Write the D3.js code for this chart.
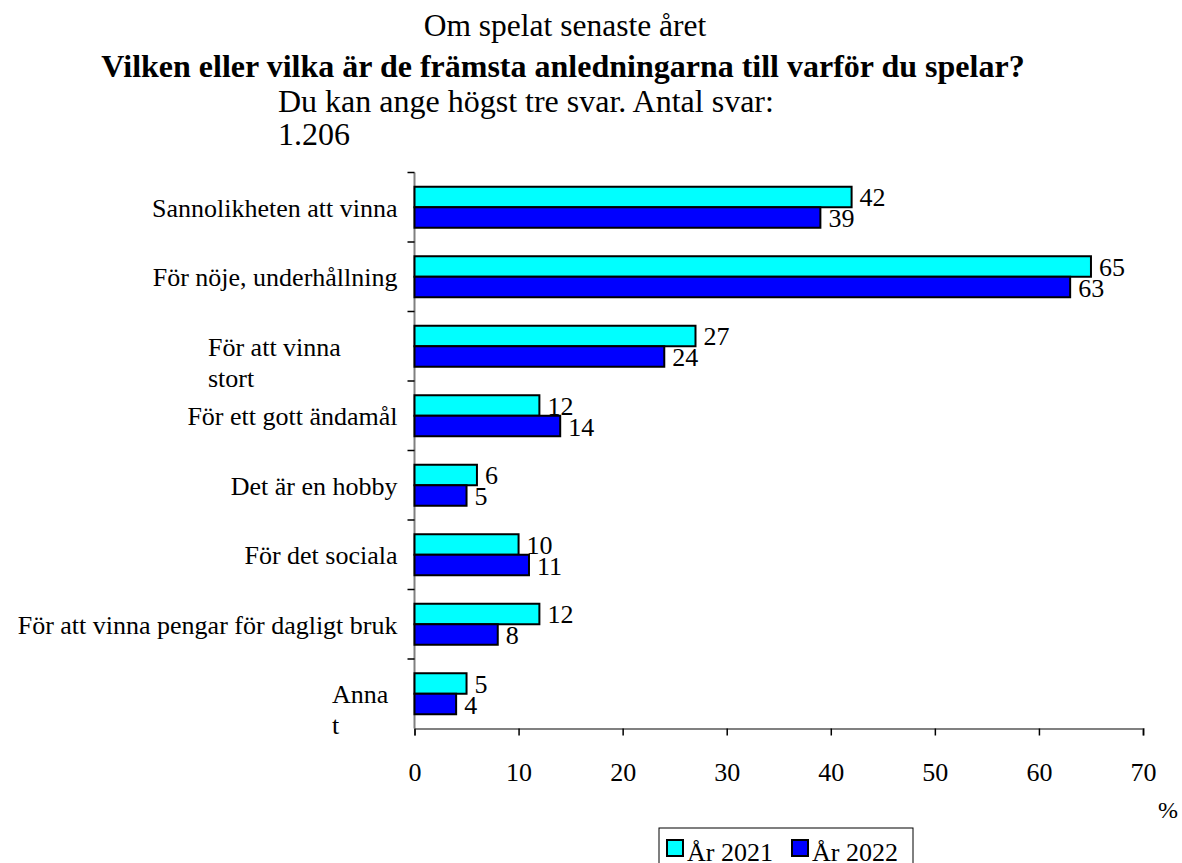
<!DOCTYPE html>
<html>
<head>
<meta charset="utf-8">
<script src="https://cdn.jsdelivr.net/npm/d3@7"></script>
<style>
    body { margin: 0; background: #fff; }
    text { font-family: "Liberation Serif", "Times New Roman", serif; fill: #000; }
</style>
</head>
<body>
<script>
const categories = [
    'Sannolikheten att vinna',
    'För nöje, underhållning',
    'För att vinna stort',
    'För ett gott ändamål',
    'Det är en hobby',
    'För det sociala',
    'För att vinna pengar för dagligt bruk',
    'Annat'
];
// the reference wraps two of the labels
const wrapped = {
    'För att vinna stort': ['För att vinna', 'stort'],
    'Annat': ['Anna', 't']
};
const years = ['År 2021', 'År 2022'];
const values2021 = [42, 65, 27, 12, 6, 10, 12, 5];
const values2022 = [39, 63, 24, 14, 5, 11, 8, 4];
const colors = ['#00ffff', '#0000ff'];
const xticks = [0, 10, 20, 30, 40, 50, 60, 70];

const W = 1182, H = 863;
const margin = { top: 172.5, left: 414.5, right: 39, bottom: 134.5 };
const width = W - margin.left - margin.right;
const height = H - margin.top - margin.bottom;

const svg = d3.select('body').append('svg')
    .attr('width', W)
    .attr('height', H);

// titles
svg.append('text').attr('x', 565).attr('y', 36)
    .attr('text-anchor', 'middle').style('font-size', '31.5px')
    .text('Om spelat senaste året');
svg.append('text').attr('x', 563).attr('y', 77)
    .attr('text-anchor', 'middle').style('font-size', '32px').style('font-weight', 'bold')
    .text('Vilken eller vilka är de främsta anledningarna till varför du spelar?');
svg.append('text').attr('x', 278).attr('y', 112)
    .style('font-size', '32px')
    .text('Du kan ange högst tre svar. Antal svar:');
svg.append('text').attr('x', 278).attr('y', 145)
    .style('font-size', '32px')
    .text('1.206');

const g = svg.append('g')
    .attr('transform', `translate(${margin.left}, ${margin.top})`);

const x = d3.scaleLinear().domain([0, 70]).range([0, width]);
const y = d3.scaleBand().domain(categories).range([0, height]);
const y1 = d3.scaleBand().domain(years)
    .range([y.bandwidth() * 0.205, y.bandwidth() * 0.795]);

const rows = categories.map((c, i) => ({
    cat: c,
    vals: [
        { year: years[0], v: values2021[i], color: colors[0] },
        { year: years[1], v: values2022[i], color: colors[1] }
    ]
}));

// x axis
const xaxis = d3.axisBottom(x).tickValues(xticks).tickSize(7).tickPadding(27);
const gx = g.append('g').attr('transform', `translate(0, ${height})`).call(xaxis);
gx.select('.domain').attr('stroke', '#808080').attr('stroke-width', 2);
gx.selectAll('.tick line').attr('stroke', '#000').attr('stroke-width', 1.5);
gx.selectAll('.tick text').style('font-size', '26px').attr('fill', '#000')
    .style('font-family', '"Liberation Serif", "Times New Roman", serif');

svg.append('text').attr('x', 1178).attr('y', 818)
    .attr('text-anchor', 'end').style('font-size', '24px').text('%');

// y axis: line plus ticks at band edges
g.append('line').attr('x1', 0).attr('x2', 0).attr('y1', 0).attr('y2', height)
    .attr('stroke', '#808080').attr('stroke-width', 2);
g.selectAll('.ytick').data(categories).join('line')
    .attr('class', 'ytick')
    .attr('x1', -7).attr('x2', 0)
    .attr('y1', (d) => y(d)).attr('y2', (d) => y(d))
    .attr('stroke', '#000').attr('stroke-width', 1.5);

// category labels
const wrapX = { 'För att vinna stort': 208, 'Annat': 332 };
categories.forEach((c) => {
    const cy = y(c) + y.bandwidth() / 2;
    if (wrapped[c]) {
        const t = svg.append('text').style('font-size', '26px');
        wrapped[c].forEach((line, k) => {
            t.append('tspan')
                .attr('x', wrapX[c])
                .attr('y', margin.top + cy + 9.5 + k * 31)
                .text(line);
        });
    } else {
        svg.append('text')
            .attr('x', margin.left - 17)
            .attr('y', margin.top + cy + 9.5)
            .attr('text-anchor', 'end')
            .style('font-size', '26px')
            .text(c);
    }
});

// bars
const grp = g.selectAll('.cat').data(rows).join('g')
    .attr('class', 'cat')
    .attr('transform', (d) => `translate(0, ${y(d.cat)})`);

grp.selectAll('rect').data((d) => d.vals).join('rect')
    .attr('x', 0)
    .attr('y', (d) => y1(d.year))
    .attr('width', (d) => x(d.v))
    .attr('height', y1.bandwidth())
    .attr('fill', (d) => d.color)
    .attr('stroke', '#000')
    .attr('stroke-width', 2);

grp.selectAll('.val').data((d) => d.vals).join('text')
    .attr('class', 'val')
    .attr('x', (d) => x(d.v) + 8)
    .attr('y', (d) => y1(d.year) + y1.bandwidth() / 2 + 9.5)
    .style('font-size', '26px')
    .text((d) => d.v);

// legend
const legend = svg.append('g').attr('transform', 'translate(659, 828)');
legend.append('rect').attr('width', 254).attr('height', 44)
    .attr('fill', '#fff').attr('stroke', '#000').attr('stroke-width', 1);
const li = legend.selectAll('.li').data(years).join('g')
    .attr('class', 'li')
    .attr('transform', (d, i) => `translate(${8 + i * 125}, 0)`);
li.append('rect').attr('x', 0).attr('y', 12).attr('width', 16).attr('height', 16)
    .attr('fill', (d, i) => colors[i]).attr('stroke', '#000').attr('stroke-width', 2);
li.append('text').attr('x', 20).attr('y', 33).style('font-size', '26px').text((d) => d);
</script>
</body>
</html>
